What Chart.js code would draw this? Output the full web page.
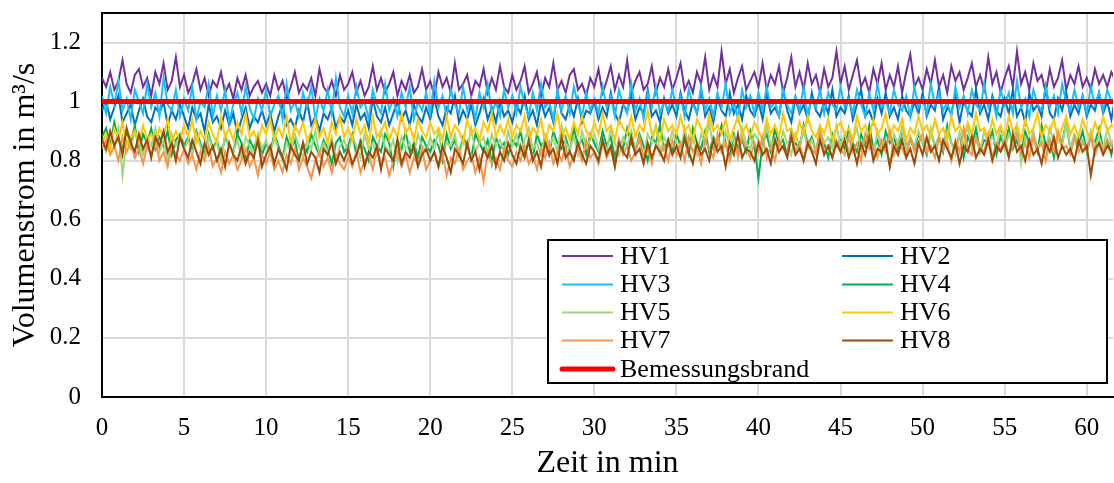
<!DOCTYPE html>
<html>
<head>
<meta charset="utf-8">
<script src="https://cdn.jsdelivr.net/npm/chart.js@4.4.0/dist/chart.umd.min.js"></script>
<style>
  body { margin: 0; background: #fff; }
  #wrap { width: 1114px; height: 483px; }
</style>
</head>
<body>
<div id="wrap"><canvas id="flowChart" width="1114" height="483"></canvas></div>
<script>
// time in min (one value every 15 s)
const timeMin = [
  0, 0.25, 0.5, 0.75, 1, 1.25, 1.5, 1.75, 2, 2.25, 2.5, 2.75, 3, 3.25, 3.5, 3.75, 4, 4.25, 4.5, 4.75,
  5, 5.25, 5.5, 5.75, 6, 6.25, 6.5, 6.75, 7, 7.25, 7.5, 7.75, 8, 8.25, 8.5, 8.75, 9, 9.25, 9.5, 9.75,
  10, 10.25, 10.5, 10.75, 11, 11.25, 11.5, 11.75, 12, 12.25, 12.5, 12.75, 13, 13.25, 13.5, 13.75, 14, 14.25, 14.5, 14.75,
  15, 15.25, 15.5, 15.75, 16, 16.25, 16.5, 16.75, 17, 17.25, 17.5, 17.75, 18, 18.25, 18.5, 18.75, 19, 19.25, 19.5, 19.75,
  20, 20.25, 20.5, 20.75, 21, 21.25, 21.5, 21.75, 22, 22.25, 22.5, 22.75, 23, 23.25, 23.5, 23.75, 24, 24.25, 24.5, 24.75,
  25, 25.25, 25.5, 25.75, 26, 26.25, 26.5, 26.75, 27, 27.25, 27.5, 27.75, 28, 28.25, 28.5, 28.75, 29, 29.25, 29.5, 29.75,
  30, 30.25, 30.5, 30.75, 31, 31.25, 31.5, 31.75, 32, 32.25, 32.5, 32.75, 33, 33.25, 33.5, 33.75, 34, 34.25, 34.5, 34.75,
  35, 35.25, 35.5, 35.75, 36, 36.25, 36.5, 36.75, 37, 37.25, 37.5, 37.75, 38, 38.25, 38.5, 38.75, 39, 39.25, 39.5, 39.75,
  40, 40.25, 40.5, 40.75, 41, 41.25, 41.5, 41.75, 42, 42.25, 42.5, 42.75, 43, 43.25, 43.5, 43.75, 44, 44.25, 44.5, 44.75,
  45, 45.25, 45.5, 45.75, 46, 46.25, 46.5, 46.75, 47, 47.25, 47.5, 47.75, 48, 48.25, 48.5, 48.75, 49, 49.25, 49.5, 49.75,
  50, 50.25, 50.5, 50.75, 51, 51.25, 51.5, 51.75, 52, 52.25, 52.5, 52.75, 53, 53.25, 53.5, 53.75, 54, 54.25, 54.5, 54.75,
  55, 55.25, 55.5, 55.75, 56, 56.25, 56.5, 56.75, 57, 57.25, 57.5, 57.75, 58, 58.25, 58.5, 58.75, 59, 59.25, 59.5, 59.75,
  60, 60.25, 60.5, 60.75, 61, 61.25, 61.5, 61.75
];

// volume flow in m³/s per fan (HV1 ... HV8)
const hv1 = [
  1.08,1.05,1.10,1.04,1.07,1.14,1.06,1.03,1.09,1.11,1.05,1.08,1.02,1.10,1.06,1.13,1.04,1.07,1.15,1.05,
  1.09,1.03,1.06,1.11,1.04,1.08,1.02,1.07,1.05,1.10,1.03,1.06,1.01,1.08,1.04,1.09,1.02,1.05,1.07,1.03,
  1.06,1.02,1.09,1.04,1.07,1.01,1.05,1.10,1.03,1.06,1.04,1.08,1.02,1.11,1.05,1.03,1.07,1.02,1.09,1.04,
  1.06,1.10,1.03,1.07,1.02,1.05,1.12,1.04,1.08,1.03,1.06,1.10,1.02,1.07,1.04,1.09,1.03,1.05,1.11,1.04,
  1.07,1.02,1.10,1.05,1.08,1.03,1.13,1.04,1.06,1.09,1.02,1.07,1.05,1.11,1.03,1.08,1.04,1.12,1.05,1.03,
  1.09,1.04,1.07,1.12,1.03,1.06,1.10,1.02,1.08,1.05,1.13,1.04,1.07,1.03,1.09,1.11,1.04,1.06,1.02,1.08,
  1.05,1.11,1.03,1.07,1.12,1.04,1.09,1.05,1.14,1.03,1.07,1.10,1.04,1.06,1.12,1.03,1.08,1.05,1.11,1.04,
  1.08,1.13,1.04,1.07,1.03,1.10,1.06,1.15,1.04,1.09,1.05,1.17,1.06,1.11,1.03,1.08,1.12,1.04,1.07,1.10,
  1.05,1.13,1.04,1.09,1.06,1.12,1.03,1.08,1.15,1.05,1.10,1.04,1.13,1.06,1.09,1.03,1.11,1.05,1.08,1.17,
  1.06,1.12,1.04,1.09,1.14,1.05,1.08,1.03,1.11,1.06,1.13,1.04,1.09,1.05,1.12,1.03,1.10,1.16,1.05,1.08,
  1.04,1.11,1.06,1.14,1.05,1.09,1.03,1.12,1.07,1.10,1.04,1.08,1.13,1.05,1.09,1.04,1.15,1.06,1.10,1.03,
  1.08,1.12,1.05,1.17,1.06,1.10,1.04,1.13,1.07,1.09,1.03,1.11,1.05,1.08,1.14,1.04,1.09,1.06,1.12,1.05,
  1.08,1.04,1.11,1.06,1.09,1.05,1.10,1.07
];
const hv2 = [
  0.97,1.00,0.94,0.98,1.02,0.93,0.96,0.99,0.92,0.97,1.01,0.95,0.93,0.98,0.96,1.00,0.92,0.97,0.94,0.99,
  0.95,0.91,0.98,0.94,0.96,0.90,0.99,0.93,0.95,0.91,0.97,0.92,0.96,0.89,0.94,0.98,0.91,0.95,0.93,0.97,
  0.92,0.96,0.90,0.95,0.99,0.92,0.94,0.91,0.97,0.93,1.00,0.92,0.95,0.90,0.96,0.94,0.98,0.91,0.95,0.93,
  0.97,0.92,0.99,0.94,0.96,0.91,1.01,0.95,0.93,0.98,0.92,0.96,1.00,0.94,0.97,0.92,0.99,0.95,0.93,0.98,
  0.94,1.01,0.95,0.92,0.98,0.96,1.02,0.93,0.97,0.94,0.99,0.92,0.96,1.01,0.94,0.98,0.93,1.00,0.95,0.97,
  0.93,0.99,0.96,1.02,0.94,0.97,0.92,1.00,0.95,0.98,0.93,1.03,0.96,0.94,0.99,0.95,1.01,0.93,0.97,0.96,
  1.00,0.94,0.98,0.95,1.03,0.96,0.93,0.99,0.97,1.02,0.94,0.98,0.96,1.04,0.95,0.97,0.93,1.01,0.96,0.99,
  0.95,1.03,0.97,0.94,1.00,0.96,1.04,0.95,0.98,0.93,1.01,0.97,0.95,1.03,0.96,0.99,0.94,1.02,0.97,0.95,
  1.00,0.94,1.03,0.96,0.98,0.95,1.04,0.97,0.93,1.01,0.96,0.99,0.94,1.03,0.97,0.95,1.00,0.96,1.04,0.95,
  0.98,0.96,1.02,0.94,0.99,1.04,0.95,0.97,0.93,1.01,0.96,1.03,0.95,0.98,0.94,1.02,0.97,0.95,1.00,0.96,
  1.03,0.95,0.99,0.97,1.05,0.94,0.98,0.96,1.02,0.93,1.00,0.97,0.95,1.04,0.96,0.99,0.94,1.02,0.97,0.95,
  1.01,0.96,1.04,0.95,0.98,0.93,1.03,0.97,0.99,0.95,1.05,0.96,0.94,1.01,0.97,1.03,0.95,0.99,0.96,1.02,
  0.95,0.99,0.97,1.03,0.96,1.00,0.94,1.02
];
const hv3 = [
  1.02,0.96,1.05,0.99,1.07,0.97,1.01,0.94,1.04,1.00,0.96,1.06,0.98,1.03,0.95,1.08,0.99,0.97,1.04,0.95,
  1.01,0.97,1.05,0.94,1.00,0.98,1.06,0.95,1.02,0.97,1.04,0.93,0.99,1.03,0.96,1.05,0.98,0.94,1.01,0.97,
  1.04,0.95,0.99,1.02,0.94,1.06,0.97,1.00,0.95,1.03,0.98,1.05,0.94,1.01,0.97,1.04,0.96,1.08,0.98,0.95,
  1.02,0.96,1.05,0.98,1.00,0.94,1.04,0.99,0.96,1.06,0.97,1.01,0.95,1.03,0.98,1.05,0.94,1.00,0.97,1.03,
  0.96,1.07,0.98,1.02,0.95,1.04,0.99,0.96,1.05,0.97,1.01,0.94,1.03,0.98,1.06,0.96,1.00,0.95,1.04,0.98,
  1.02,0.96,1.05,0.99,0.95,1.03,0.97,1.06,0.98,1.00,0.94,1.04,0.97,1.02,0.96,1.05,0.99,0.95,1.03,0.97,
  1.01,0.96,1.05,0.98,1.02,0.95,1.04,0.99,0.96,1.06,0.97,1.01,0.94,1.03,0.98,1.05,0.96,1.00,0.97,1.04,
  0.98,1.02,0.95,1.04,0.99,0.96,1.05,0.97,1.01,0.95,1.03,0.98,1.06,0.96,1.00,0.94,1.04,0.98,1.02,0.96,
  1.03,0.97,1.05,0.98,1.00,0.95,1.04,0.99,0.96,1.02,0.97,1.05,0.95,1.01,0.98,1.04,0.96,1.03,0.99,0.97,
  1.05,0.98,1.01,0.96,1.04,0.99,0.95,1.03,0.97,1.06,0.98,1.00,0.96,1.04,0.99,0.97,1.02,0.95,1.05,0.98,
  1.01,0.96,1.06,0.99,1.03,0.97,1.00,0.95,1.05,0.98,1.02,0.96,1.04,0.99,0.97,1.06,0.98,1.01,0.95,1.04,
  0.99,1.03,0.96,1.07,0.98,1.01,0.95,1.04,0.99,0.97,1.05,0.98,1.02,0.96,1.06,1.00,0.97,1.04,0.98,1.02,
  0.96,1.05,0.99,1.03,0.97,1.04,1.00,1.02
];
const hv4 = [
  0.88,0.91,0.85,0.93,0.87,0.84,0.90,0.86,0.92,0.83,0.89,0.86,0.91,0.84,0.88,0.85,0.90,0.82,0.87,0.89,
  0.85,0.88,0.83,0.90,0.86,0.82,0.89,0.84,0.87,0.81,0.88,0.85,0.83,0.89,0.86,0.80,0.87,0.84,0.88,0.82,
  0.86,0.83,0.89,0.85,0.81,0.88,0.84,0.87,0.80,0.86,0.83,0.89,0.85,0.82,0.87,0.84,0.79,0.86,0.88,0.83,
  0.85,0.89,0.82,0.87,0.84,0.80,0.88,0.85,0.83,0.89,0.86,0.78,0.87,0.84,0.90,0.83,0.86,0.81,0.88,0.85,
  0.83,0.87,0.85,0.80,0.89,0.84,0.87,0.82,0.88,0.85,0.81,0.89,0.86,0.83,0.87,0.79,0.88,0.84,0.86,0.82,
  0.87,0.85,0.90,0.83,0.86,0.81,0.89,0.85,0.87,0.82,0.90,0.86,0.84,0.88,0.83,0.91,0.85,0.87,0.82,0.89,
  0.86,0.83,0.90,0.85,0.88,0.81,0.87,0.84,0.91,0.86,0.83,0.89,0.85,0.80,0.88,0.86,0.92,0.84,0.87,0.83,
  0.89,0.85,0.87,0.82,0.91,0.86,0.84,0.90,0.83,0.88,0.85,0.92,0.86,0.81,0.89,0.84,0.87,0.83,0.90,0.85,
  0.74,0.86,0.89,0.83,0.91,0.85,0.87,0.82,0.90,0.86,0.84,0.92,0.85,0.88,0.83,0.90,0.86,0.81,0.89,0.85,
  0.87,0.84,0.91,0.86,0.83,0.89,0.85,0.92,0.84,0.87,0.82,0.90,0.86,0.88,0.83,0.91,0.85,0.87,0.84,0.89,
  0.86,0.82,0.90,0.85,0.88,0.83,0.92,0.86,0.84,0.89,0.81,0.88,0.85,0.91,0.83,0.87,0.86,0.90,0.82,0.88,
  0.85,0.91,0.84,0.87,0.82,0.90,0.86,0.88,0.83,0.92,0.85,0.87,0.81,0.89,0.86,0.93,0.84,0.88,0.85,0.90,
  0.83,0.88,0.86,0.91,0.84,0.87,0.82,0.89
];
const hv5 = [
  0.86,0.83,0.89,0.85,0.91,0.75,0.87,0.84,0.90,0.86,0.82,0.88,0.85,0.91,0.83,0.87,0.80,0.89,0.85,0.88,
  0.84,0.87,0.82,0.89,0.85,0.81,0.88,0.84,0.86,0.80,0.89,0.85,0.83,0.87,0.81,0.88,0.85,0.82,0.89,0.84,
  0.87,0.82,0.88,0.84,0.80,0.86,0.83,0.89,0.85,0.81,0.87,0.84,0.90,0.82,0.86,0.83,0.88,0.80,0.85,0.87,
  0.83,0.88,0.85,0.81,0.89,0.84,0.86,0.82,0.90,0.85,0.83,0.87,0.80,0.88,0.84,0.86,0.82,0.89,0.85,0.83,
  0.88,0.84,0.90,0.82,0.86,0.85,0.89,0.81,0.87,0.84,0.91,0.83,0.86,0.88,0.82,0.89,0.85,0.87,0.83,0.90,
  0.85,0.89,0.83,0.87,0.91,0.84,0.86,0.82,0.89,0.85,0.88,0.83,0.92,0.86,0.84,0.88,0.82,0.90,0.85,0.87,
  0.89,0.84,0.87,0.83,0.91,0.86,0.82,0.88,0.85,0.90,0.84,0.87,0.81,0.89,0.86,0.92,0.83,0.88,0.85,0.90,
  0.86,0.83,0.91,0.85,0.88,0.82,0.89,0.86,0.93,0.84,0.87,0.83,0.90,0.85,0.88,0.81,0.91,0.86,0.84,0.89,
  0.87,0.84,0.92,0.85,0.88,0.83,0.90,0.86,0.82,0.89,0.85,0.91,0.84,0.87,0.83,0.90,0.86,0.88,0.84,0.92,
  0.85,0.89,0.83,0.87,0.91,0.84,0.88,0.86,0.82,0.90,0.85,0.87,0.78,0.89,0.86,0.91,0.84,0.88,0.85,0.90,
  0.86,0.83,0.91,0.85,0.88,0.84,0.90,0.86,0.82,0.89,0.85,0.92,0.84,0.87,0.83,0.90,0.86,0.88,0.85,0.91,
  0.84,0.89,0.86,0.92,0.79,0.88,0.85,0.90,0.84,0.87,0.83,0.91,0.86,0.88,0.85,0.93,0.84,0.89,0.86,0.87,
  0.83,0.90,0.85,0.88,0.84,0.91,0.86,0.88
];
const hv6 = [
  0.86,0.89,0.84,0.91,0.87,0.93,0.85,0.88,0.90,0.86,0.92,0.87,0.89,0.85,0.91,0.88,0.94,0.86,0.90,0.87,
  0.92,0.88,0.94,0.86,0.90,0.87,0.93,0.89,0.86,0.95,0.88,0.91,0.87,0.93,0.89,0.96,0.88,0.90,0.86,0.92,
  0.89,0.94,0.87,0.91,0.88,0.95,0.86,0.92,0.89,0.93,0.87,0.90,0.94,0.88,0.91,0.86,0.93,0.89,0.95,0.88,
  0.91,0.87,0.94,0.89,0.92,0.86,0.95,0.88,0.90,0.93,0.87,0.91,0.88,0.96,0.89,0.92,0.87,0.94,0.90,0.88,
  0.93,0.89,0.91,0.87,0.95,0.88,0.92,0.90,0.86,0.94,0.89,0.91,0.87,0.93,0.90,0.96,0.88,0.92,0.89,0.94,
  0.88,0.92,0.90,0.95,0.87,0.91,0.89,0.94,0.86,0.92,0.90,0.96,0.88,0.91,0.87,0.93,0.89,0.95,0.90,0.88,
  0.93,0.89,0.96,0.90,0.92,0.87,0.94,0.91,0.89,0.95,0.88,0.92,0.90,0.97,0.89,0.91,0.87,0.94,0.90,0.92,
  0.89,0.95,0.90,0.92,0.87,0.94,0.91,0.88,0.96,0.90,0.92,0.89,0.94,0.87,0.91,0.95,0.89,0.92,0.88,0.93,
  0.90,0.87,0.94,0.89,0.92,0.88,0.96,0.90,0.91,0.87,0.93,0.89,0.95,0.90,0.88,0.92,0.89,0.94,0.87,0.91,
  0.93,0.89,0.91,0.87,0.95,0.90,0.92,0.88,0.94,0.89,0.91,0.96,0.88,0.92,0.90,0.94,0.87,0.91,0.89,0.95,
  0.90,0.92,0.88,0.94,0.89,0.91,0.87,0.95,0.90,0.92,0.88,0.93,0.89,0.96,0.90,0.91,0.87,0.94,0.89,0.92,
  0.88,0.95,0.90,0.92,0.87,0.94,0.89,0.91,0.96,0.88,0.92,0.90,0.94,0.87,0.91,0.95,0.89,0.92,0.88,0.94,
  0.90,0.87,0.93,0.89,0.95,0.90,0.92,0.91
];
const hv7 = [
  0.84,0.87,0.82,0.85,0.80,0.88,0.83,0.86,0.81,0.84,0.79,0.85,0.82,0.87,0.80,0.83,0.78,0.85,0.82,0.80,
  0.84,0.79,0.82,0.77,0.83,0.80,0.85,0.78,0.81,0.76,0.83,0.79,0.82,0.77,0.80,0.84,0.78,0.81,0.75,0.82,
  0.79,0.83,0.77,0.80,0.76,0.82,0.79,0.84,0.77,0.81,0.78,0.74,0.80,0.83,0.78,0.81,0.76,0.82,0.79,0.77,
  0.81,0.78,0.83,0.76,0.80,0.82,0.77,0.84,0.79,0.81,0.75,0.80,0.83,0.78,0.82,0.76,0.81,0.79,0.84,0.77,
  0.80,0.83,0.78,0.82,0.75,0.81,0.79,0.84,0.77,0.80,0.82,0.76,0.81,0.73,0.83,0.79,0.81,0.77,0.84,0.80,
  0.78,0.83,0.80,0.85,0.79,0.82,0.77,0.84,0.81,0.86,0.79,0.83,0.80,0.85,0.78,0.82,0.84,0.80,0.87,0.81,
  0.83,0.79,0.86,0.81,0.84,0.78,0.87,0.82,0.85,0.80,0.83,0.88,0.81,0.84,0.79,0.86,0.82,0.85,0.80,0.87,
  0.82,0.86,0.80,0.88,0.83,0.85,0.79,0.87,0.84,0.81,0.89,0.83,0.86,0.80,0.85,0.82,0.88,0.84,0.81,0.86,
  0.83,0.88,0.81,0.85,0.80,0.87,0.84,0.82,0.89,0.83,0.86,0.80,0.87,0.84,0.82,0.90,0.83,0.85,0.81,0.87,
  0.84,0.82,0.88,0.83,0.86,0.80,0.89,0.84,0.85,0.81,0.87,0.83,0.90,0.82,0.86,0.84,0.81,0.88,0.83,0.86,
  0.89,0.83,0.85,0.81,0.88,0.84,0.86,0.80,0.87,0.83,0.91,0.84,0.82,0.88,0.85,0.83,0.89,0.81,0.86,0.84,
  0.87,0.82,0.85,0.89,0.83,0.86,0.81,0.88,0.84,0.86,0.80,0.87,0.83,0.90,0.84,0.85,0.82,0.88,0.83,0.86,
  0.84,0.88,0.82,0.86,0.83,0.87,0.85,0.84
];
const hv8 = [
  0.87,0.84,0.90,0.85,0.88,0.82,0.91,0.86,0.83,0.89,0.84,0.87,0.81,0.88,0.85,0.90,0.83,0.86,0.80,0.88,
  0.84,0.81,0.87,0.83,0.79,0.86,0.82,0.85,0.80,0.84,0.78,0.86,0.82,0.80,0.85,0.79,0.83,0.81,0.87,0.78,
  0.82,0.85,0.79,0.84,0.81,0.77,0.85,0.82,0.80,0.86,0.79,0.83,0.81,0.76,0.84,0.82,0.86,0.79,0.83,0.80,
  0.84,0.79,0.82,0.86,0.78,0.83,0.81,0.85,0.77,0.84,0.82,0.80,0.87,0.79,0.83,0.81,0.85,0.78,0.82,0.84,
  0.80,0.83,0.78,0.85,0.81,0.76,0.84,0.82,0.79,0.86,0.80,0.83,0.77,0.84,0.81,0.85,0.78,0.83,0.80,0.86,
  0.82,0.79,0.85,0.81,0.87,0.80,0.83,0.78,0.86,0.82,0.84,0.79,0.88,0.81,0.83,0.80,0.86,0.82,0.79,0.85,
  0.83,0.80,0.87,0.82,0.85,0.78,0.86,0.83,0.81,0.88,0.82,0.84,0.79,0.86,0.81,0.85,0.83,0.80,0.87,0.82,
  0.85,0.81,0.88,0.83,0.79,0.86,0.82,0.84,0.80,0.87,0.83,0.85,0.78,0.86,0.82,0.89,0.81,0.84,0.83,0.80,
  0.86,0.82,0.84,0.79,0.87,0.83,0.85,0.81,0.88,0.82,0.84,0.80,0.86,0.83,0.79,0.87,0.82,0.85,0.81,0.86,
  0.83,0.87,0.81,0.85,0.79,0.86,0.82,0.88,0.80,0.84,0.83,0.86,0.78,0.85,0.82,0.87,0.81,0.84,0.79,0.86,
  0.82,0.88,0.83,0.85,0.80,0.87,0.84,0.81,0.86,0.79,0.85,0.83,0.88,0.81,0.84,0.82,0.87,0.80,0.85,0.83,
  0.86,0.81,0.89,0.83,0.85,0.80,0.87,0.82,0.84,0.79,0.86,0.83,0.88,0.81,0.85,0.82,0.84,0.80,0.87,0.83,
  0.85,0.75,0.84,0.86,0.82,0.85,0.83,0.86
];

// design fire reference line
const designTime = [0, 61.6];
const designFlow = [1.0, 1.0];

const xTicks = [0, 5, 10, 15, 20, 25, 30, 35, 40, 45, 50, 55, 60];
const yTicks = [0, 0.2, 0.4, 0.6, 0.8, 1, 1.2];

const serif = '"Liberation Serif", "Times New Roman", serif';

function pts(xs, ys) {
  return ys.map((y, i) => ({ x: xs[i], y: y }));
}

const series = [
  { label: 'HV1', values: hv1, color: '#7030A0' },
  { label: 'HV2', values: hv2, color: '#0070C0' },
  { label: 'HV3', values: hv3, color: '#1CBCF8' },
  { label: 'HV4', values: hv4, color: '#00B050' },
  { label: 'HV5', values: hv5, color: '#A0D67E' },
  { label: 'HV6', values: hv6, color: '#FFC800' },
  { label: 'HV7', values: hv7, color: '#F7964A' },
  { label: 'HV8', values: hv8, color: '#9C4A08' }
];

// later series are drawn on top (lower order = drawn last)
const datasets = series.map((s, i) => ({
  label: s.label,
  data: pts(timeMin, s.values),
  borderColor: s.color,
  backgroundColor: s.color,
  borderWidth: 2,
  pointRadius: 0,
  tension: 0,
  order: series.length - i + 1
}));
datasets.push({
  label: 'Bemessungsbrand',
  data: pts(designTime, designFlow),
  borderColor: '#FF0000',
  backgroundColor: '#FF0000',
  borderWidth: 5,
  pointRadius: 0,
  order: 0
});

// legend box inside the plot, two columns like the original
const boxLegend = {
  id: 'boxLegend',
  afterDraw(chart) {
    const ctx = chart.ctx;
    const a = chart.chartArea;
    ctx.save();
    ctx.strokeStyle = '#000';
    ctx.lineWidth = 2;
    ctx.beginPath();
    ctx.moveTo(a.left, a.top);
    ctx.lineTo(a.right + 1, a.top);
    ctx.stroke();

    const bx = 548, by = 240, bw = 559, bh = 143;
    ctx.fillStyle = '#fff';
    ctx.fillRect(bx, by, bw, bh);
    ctx.strokeRect(bx, by, bw, bh);

    ctx.font = '26px ' + serif;
    ctx.textBaseline = 'middle';
    ctx.textAlign = 'left';
    const cols = [562, 842];
    const rowY = [256, 284.5, 312.5, 340.5, 369];
    chart.data.datasets.forEach((ds, i) => {
      const col = i < 8 ? i % 2 : 0;
      const row = i < 8 ? Math.floor(i / 2) : 4;
      const x = cols[col], y = rowY[row];
      ctx.strokeStyle = ds.borderColor;
      ctx.lineWidth = i < 8 ? 2 : 5;
      ctx.lineCap = i < 8 ? 'butt' : 'round';
      ctx.beginPath();
      ctx.moveTo(x, y);
      ctx.lineTo(x + 51, y);
      ctx.stroke();
      ctx.fillStyle = '#000';
      ctx.fillText(ds.label, x + 58, y + 1);
    });
    ctx.restore();
  }
};

new Chart(document.getElementById('flowChart'), {
  type: 'line',
  data: { datasets: datasets },
  options: {
    responsive: false,
    animation: false,
    layout: { padding: { top: 13, right: 1, left: 0, bottom: 0 } },
    plugins: {
      legend: { display: false },
      tooltip: { enabled: false }
    },
    scales: {
      x: {
        type: 'linear',
        min: 0,
        max: 61.6,
        afterBuildTicks: (scale) => { scale.ticks = xTicks.map(v => ({ value: v })); },
        afterFit: (scale) => {
          scale.height = 86;
          scale.paddingLeft = 0;
          scale.paddingRight = 0;
        },
        grid: { color: '#D9D9D9', lineWidth: 2, drawTicks: false },
        border: { color: '#000', width: 2 },
        ticks: {
          padding: 16,
          maxRotation: 0,
          color: '#000',
          font: { family: serif, size: 25 },
          callback: (v) => String(v)
        },
        title: {
          display: true,
          text: 'Zeit in min',
          color: '#000',
          font: { family: serif, size: 32 },
          padding: { top: 0, bottom: 0 }
        }
      },
      y: {
        min: 0,
        max: 1.3,
        afterBuildTicks: (scale) => { scale.ticks = yTicks.map(v => ({ value: v })); },
        afterFit: (scale) => {
          scale.width = 102;
          scale.paddingTop = 0;
          scale.paddingBottom = 0;
        },
        grid: { color: '#D9D9D9', lineWidth: 2, drawTicks: false },
        border: { color: '#000', width: 2 },
        ticks: {
          padding: 21,
          color: '#000',
          font: { family: serif, size: 25 },
          callback: (v) => String(v)
        },
        title: {
          display: true,
          text: 'Volumenstrom in m³/s',
          color: '#000',
          font: { family: serif, size: 32 },
          padding: { top: 6, bottom: 0 }
        }
      }
    }
  },
  plugins: [boxLegend]
});
</script>
</body>
</html>
